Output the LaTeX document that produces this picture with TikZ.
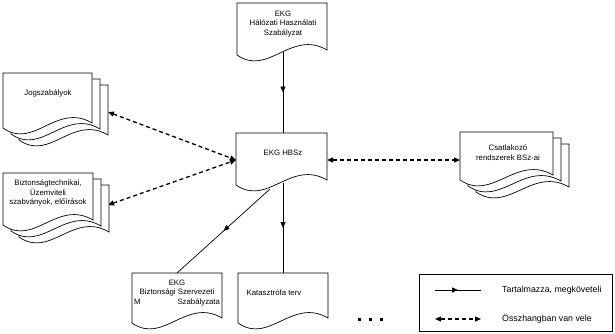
\documentclass[tikz,border=0pt]{standalone}
\usepackage{fontspec}
\setmainfont{Liberation Sans}
\usetikzlibrary{arrows.meta,decorations.markings,calc}
\newcommand\docshape[4]{%
  \filldraw[docline] (#1,#2) -- ({#1+#3},#2) -- ({#1+#3},{#2+#4-5})
    .. controls ({#1+0.6*#3},{#2+#4-26}) and ({#1+0.35*#3},{#2+#4+22}) .. (#1,{#2+#4}) -- cycle;}
\newcommand\docstack[4]{%
  \docshape{#1+16}{#2+12}{#3}{#4}
  \docshape{#1+8}{#2+6}{#3}{#4}
  \docshape{#1}{#2}{#3}{#4}}
\tikzset{
  docline/.style={draw=black, fill=white, line width=0.7pt},
  lbl/.style={align=center, inner sep=0pt, font=\fontsize{7.8}{9.8}\selectfont},
  leg/.style={inner sep=0pt, anchor=west, font=\fontsize{8.8}{10}\selectfont},
  contains/.style={line width=0.7pt, postaction={decorate},
    decoration={markings, mark=at position 0.5 with {\arrow{Triangle[length=6pt,width=5pt]}}}},
  related/.style={line width=1.3pt, dash pattern=on 4pt off 3pt,
    {Triangle[length=6pt,width=5pt]}-{Triangle[length=6pt,width=5pt]}},
}
\begin{document}
\begin{tikzpicture}[x=1pt,y=-1pt]
\useasboundingbox (0,0) rectangle (615,333);
% connector end points
\coordinate (topB) at (283,52);
\coordinate (hbT) at (283,133);
\coordinate (hbB) at (283,183);
\coordinate (hbL) at (236,160);
\coordinate (hbR) at (327,160);
\coordinate (hbD) at (270,189);
\coordinate (jogR) at (108,112);
\coordinate (bizR) at (108,205);
\coordinate (csR) at (460,160);
\coordinate (szT) at (177,273);
\coordinate (ktT) at (283,273);
% connectors
\draw[contains] (topB) -- (hbT);
\draw[contains] (hbB) -- (ktT);
\draw[contains] (hbD) -- (szT);
\draw[related] (jogR) -- (hbL);
\draw[related] (bizR) -- (hbL);
\draw[related] (hbR) -- (csR);
% documents
\docshape{237}{3}{90}{52}
\docshape{236}{133}{91}{52}
\docstack{3}{73}{89}{55}
\docstack{3}{173}{90}{52}
\docstack{460}{132}{93}{48}
\docshape{132}{273}{90}{50}
\docshape{238}{273}{90}{50}
% texts
\node[lbl] (topT) at (283,24) {EKG\\Hálózati Használati\\Szabályzat};
\node[lbl] (hb) at (283,153) {EKG HBSz};
\node[lbl] (jog) at (48,93) {Jogszabályok};
\node[lbl] (biz) at (48,193) {Biztonságtechnikai,\\Üzemviteli\\szabványok, előírások};
\node[lbl] (cs) at (508,153) {Csatlakozó\\rendszerek BSz-ai};
\node[lbl] (sz) at (177,293) {EKG\\Biztonsági Szervezeti\\\makebox[86pt]{M\hfill Szabályzata}};
\node[lbl] (kt) at (274,293) {Katasztrófa terv};
% dots
\foreach \i/\xx in {1/359,2/370,3/381}
  \fill (\xx-1.5,317.5) rectangle (\xx+1.5,320.5);
% legend
\node[draw, line width=0.7pt, minimum width=193pt, minimum height=57pt, inner sep=0pt, anchor=north west] (legend) at (419,274) {};
\coordinate (l1a) at (435,290);
\coordinate (l1b) at (481,290);
\coordinate (l2a) at (435,319);
\coordinate (l2b) at (481,319);
\draw[contains] (l1a) -- (l1b);
\draw[related] (l2a) -- (l2b);
\node[leg] (lt1) at (502,290) {Tartalmazza, megköveteli};
\node[leg] (lt2) at (502,319) {Összhangban van vele};
\end{tikzpicture}
\end{document}
